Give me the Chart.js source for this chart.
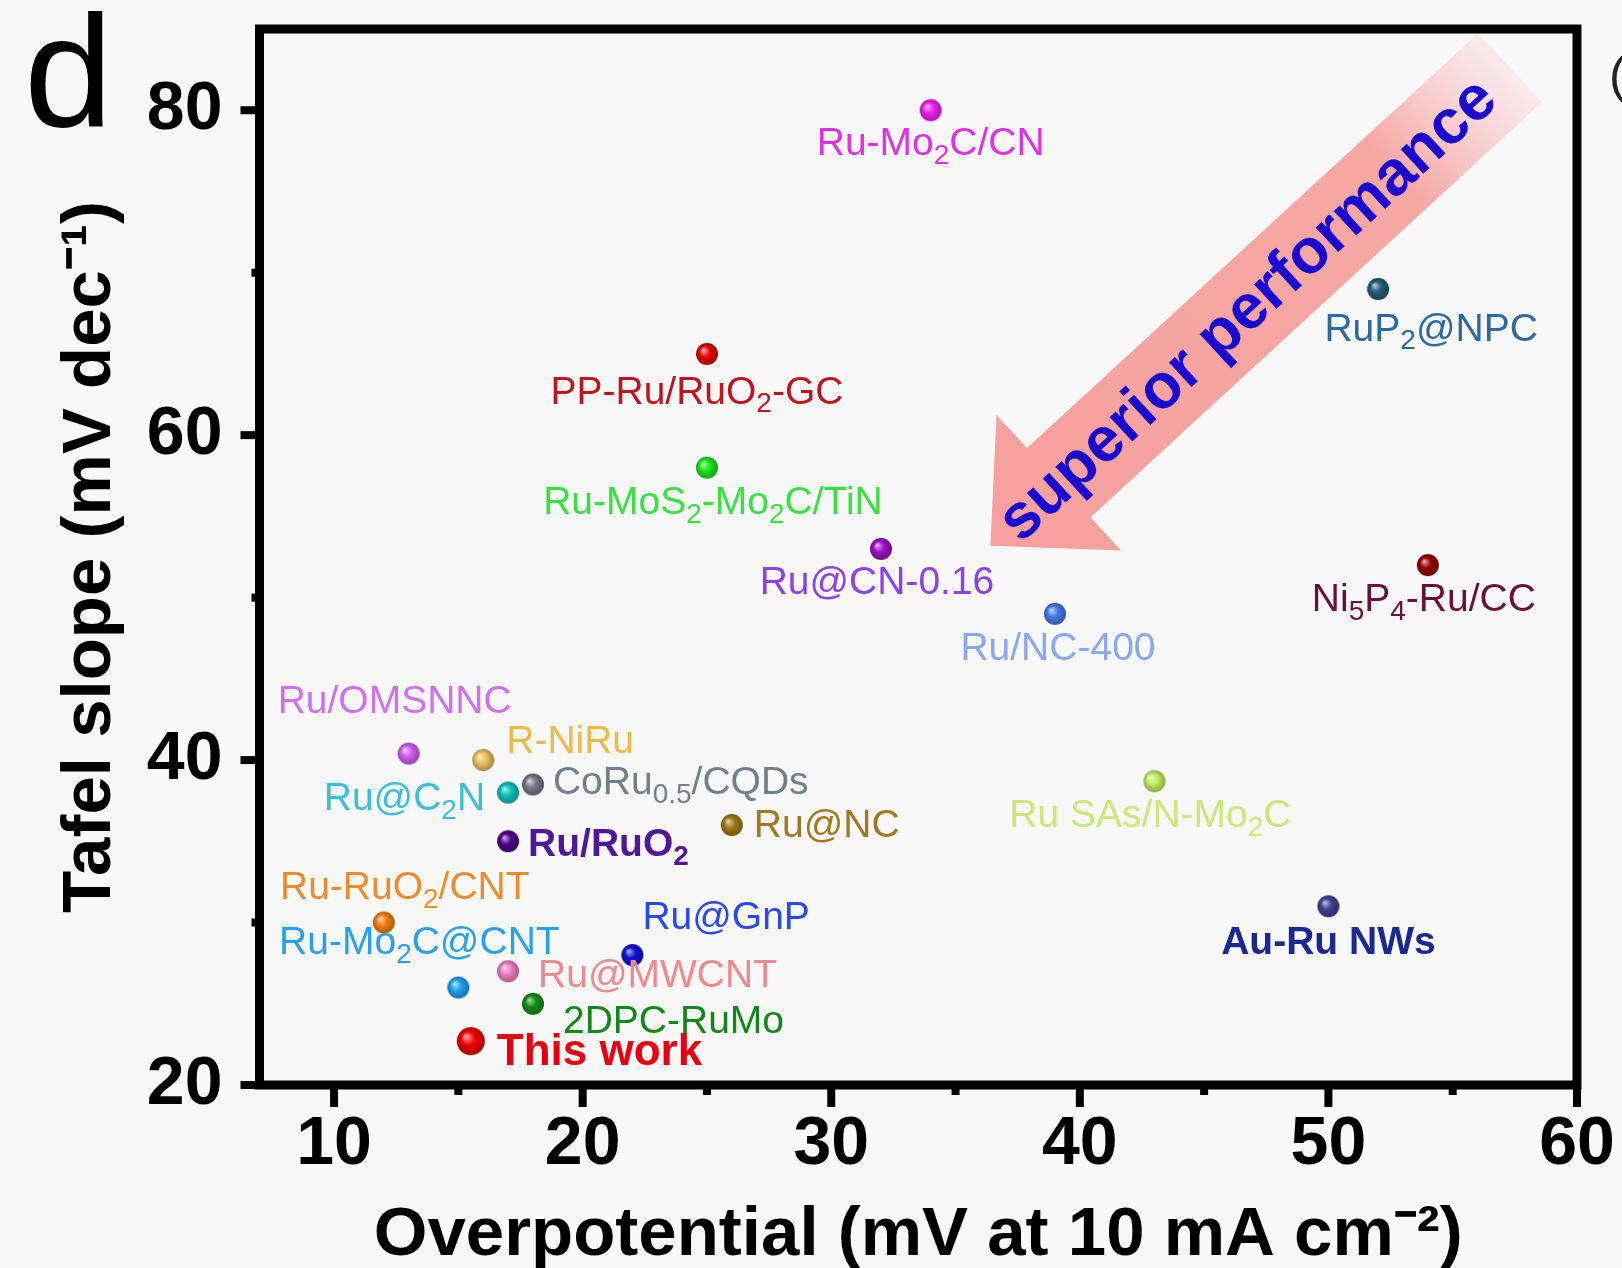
<!DOCTYPE html>
<html>
<head>
<meta charset="utf-8">
<title>Tafel slope vs overpotential</title>
<script src="https://cdn.jsdelivr.net/npm/chart.js@4.4.1/dist/chart.umd.min.js"></script>
<style>
  html, body { margin: 0; padding: 0; background: #f8f8f8; }
  #wrap { width: 1622px; height: 1268px; }
</style>
</head>
<body>
<div id="wrap"><canvas id="chart" width="1622" height="1268"></canvas></div>
<script>
// catalysts compared in the plot
const catalysts = [
    "Ru-Mo₂C/CN", "RuP₂@NPC", "PP-Ru/RuO₂-GC", "Ru-MoS₂-Mo₂C/TiN", "Ru@CN-0.16",
    "Ni₅P₄-Ru/CC", "Ru/NC-400", "Ru/OMSNNC", "R-NiRu", "Ru@C₂N",
    "CoRu₀.₅/CQDs", "Ru/RuO₂", "Ru@NC", "Ru SAs/N-Mo₂C", "Ru-RuO₂/CNT",
    "Au-Ru NWs", "Ru@GnP", "Ru@MWCNT", "Ru-Mo₂C@CNT", "2DPC-RuMo", "This work"
];
const overpotential = [34, 52, 25, 25, 32, 54, 39, 13, 16, 17, 18, 17, 26, 43, 12, 50, 22, 17, 15, 18, 15.5];
const tafelSlope = [80, 69, 65, 58, 53, 52, 49, 40.4, 40, 38, 38.5, 35, 36, 38.7, 30, 31, 28, 27, 26, 25, 22.7];

const pointColors = [
    "#f020f0", "#2a5a78", "#e00808", "#18e818", "#a010c8",
    "#980000", "#4878e8", "#d060f0", "#f0c060", "#10c0c0",
    "#787888", "#500088", "#a07818", "#c0f060", "#f08010",
    "#404090", "#1010d0", "#f080c0", "#20a0f0", "#109018", "#f00000"
];
const labelColors = [
    "#e030e8", "#2a6aa0", "#c0141c", "#38e040", "#9040e8",
    "#6a1038", "#88a8f0", "#d070f0", "#f0b848", "#38c0d8",
    "#708088", "#501898", "#a07820", "#c8e878", "#f08c28",
    "#1a2890", "#2a48f0", "#f08890", "#28a0f0", "#108818", "#e80010"
];

const xTickValues = [10, 20, 30, 40, 50, 60];
const xMinorTicks = [15, 25, 35, 45, 55];
const yTickValues = [20, 40, 60, 80];
const yMinorTicks = [30, 50, 70];

// where each label sits relative to its point (px)
const labelPlacement = [
    [0, 34, "center"], [53, 41, "center"], [-10, 39, "center"], [6, 36, "center"], [-4, 34, "center"],
    [-4, 35, "center"], [3, 35, "center"], [-14, -51, "center"], [23, -18, "left"], [-23, 7, "right"],
    [20, -1, "left"], [20, 4, "left"], [22, 1, "left"], [-4, 35, "center"], [21, -34, "center"],
    [0, 37, "center"], [10, -37, "left"], [30, 5, "left"], [-39, -44, "center"], [30, 18, "left"],
    [26, 12, "left"]
];
const boldLabels = ["This work", "Ru/RuO₂", "Au-Ru NWs"];

const arrowTip = [36.4, 53.2];
const ARROW = { angle: 42.6, length: 706, headLen: 93, headHalf: 92, shaftHalf: 47, textAt: 349 };

const FAMILY = '"Liberation Sans", Arial, sans-serif';
const SUB = "₀₁₂₃₄₅₆₇₈₉";

function hexToRgb(hex) {
    const n = parseInt(hex.slice(1), 16);
    return [(n >> 16) & 255, (n >> 8) & 255, n & 255];
}

function mix(rgb, target, f) {
    return "rgb(" + rgb.map((c, i) => Math.round(c + (target[i] - c) * f)).join(",") + ")";
}

function makeBall(color, r) {
    const c = document.createElement("canvas");
    const s = Math.ceil(r * 2 + 2);
    c.width = c.height = s;
    const g = c.getContext("2d");
    const rgb = hexToRgb(color);
    const grad = g.createRadialGradient(s / 2 - r * 0.35, s / 2 - r * 0.35, r * 0.05, s / 2, s / 2, r);
    grad.addColorStop(0, mix(rgb, [255, 255, 255], 0.65));
    grad.addColorStop(0.45, color);
    grad.addColorStop(1, mix(rgb, [0, 0, 0], 0.3));
    g.fillStyle = grad;
    g.beginPath();
    g.arc(s / 2, s / 2, r, 0, Math.PI * 2);
    g.fill();
    return c;
}

function splitRuns(text) {
    const chars = Array.from(text);
    const runs = [];
    chars.forEach((ch, i) => {
        let sub = SUB.includes(ch);
        const out = sub ? String(SUB.indexOf(ch)) : ch;
        if (ch === "." && i > 0 && SUB.includes(chars[i - 1]) && SUB.includes(chars[i + 1] || "")) sub = true;
        const last = runs[runs.length - 1];
        if (last && last.sub === sub) last.text += out;
        else runs.push({ text: out, sub });
    });
    return runs;
}

function drawRich(ctx, text, x, y, size, weight, color, align) {
    const runs = splitRuns(text);
    const mainFont = weight + " " + size + "px " + FAMILY;
    const subFont = weight + " " + Math.round(size * 0.72) + "px " + FAMILY;
    let total = 0;
    runs.forEach(r => {
        ctx.font = r.sub ? subFont : mainFont;
        r.w = ctx.measureText(r.text).width;
        total += r.w;
    });
    let cx = align === "center" ? x - total / 2 : align === "right" ? x - total : x;
    ctx.fillStyle = color;
    ctx.textAlign = "left";
    ctx.textBaseline = "middle";
    runs.forEach(r => {
        ctx.font = r.sub ? subFont : mainFont;
        ctx.fillText(r.text, cx, r.sub ? y + size * 0.3 : y);
        cx += r.w;
    });
}

const background = {
    id: "background",
    beforeDraw(chart) {
        const ctx = chart.ctx;
        ctx.save();
        ctx.fillStyle = "#f8f8f8";
        ctx.fillRect(0, 0, chart.width, chart.height);
        ctx.restore();
    }
};

const arrowPlugin = {
    id: "arrow",
    beforeDatasetsDraw(chart) {
        const { ctx, scales: { x, y } } = chart;
        const tx = x.getPixelForValue(arrowTip[0]);
        const ty = y.getPixelForValue(arrowTip[1]);
        const ang = ARROW.angle * Math.PI / 180;
        const ux = Math.cos(ang), uy = -Math.sin(ang);
        const nx = -uy, ny = ux;
        const P = (t, s) => [tx + ux * t + nx * s, ty + uy * t + ny * s];
        const pts = [
            P(0, 0), P(ARROW.headLen, ARROW.headHalf), P(ARROW.headLen, ARROW.shaftHalf),
            P(ARROW.length, ARROW.shaftHalf), P(ARROW.length, -ARROW.shaftHalf),
            P(ARROW.headLen, -ARROW.shaftHalf), P(ARROW.headLen, -ARROW.headHalf)
        ];
        ctx.save();
        const a = P(0, 0), b = P(ARROW.length, 0);
        const grad = ctx.createLinearGradient(a[0], a[1], b[0], b[1]);
        grad.addColorStop(0, "rgb(245,160,158)");
        grad.addColorStop(0.78, "rgb(246,168,164)");
        grad.addColorStop(1, "rgba(250,228,232,0.7)");
        ctx.fillStyle = grad;
        ctx.beginPath();
        pts.forEach((p, i) => i ? ctx.lineTo(p[0], p[1]) : ctx.moveTo(p[0], p[1]));
        ctx.closePath();
        ctx.fill();

        const c = P(ARROW.textAt, 0);
        ctx.translate(c[0], c[1]);
        ctx.rotate(-ang);
        ctx.font = "bold 63px " + FAMILY;
        ctx.textAlign = "center";
        ctx.textBaseline = "middle";
        ctx.fillStyle = "#1a0ad0";
        ctx.fillText("superior performance", 0, 2);
        ctx.restore();
    }
};

const labelPlugin = {
    id: "pointLabels",
    afterDatasetsDraw(chart) {
        const ctx = chart.ctx;
        const meta = chart.getDatasetMeta(0);
        ctx.save();
        meta.data.forEach((el, i) => {
            const [dx, dy, align] = labelPlacement[i];
            const bold = boldLabels.includes(catalysts[i]);
            const size = catalysts[i] === "This work" ? 44 : 39;
            drawRich(ctx, catalysts[i], el.x + dx, el.y + dy, size, bold ? "bold" : "normal", labelColors[i], align);
        });
        ctx.restore();
    }
};

const framePlugin = {
    id: "frame",
    afterDraw(chart) {
        const { ctx, chartArea: a, scales: { x, y } } = chart;
        ctx.save();
        ctx.strokeStyle = "#000";
        ctx.lineWidth = 9;
        ctx.strokeRect(a.left, a.top, a.right - a.left, a.bottom - a.top);
        ctx.fillStyle = "#000";
        x.ticks.forEach(t => {
            const px = x.getPixelForValue(t.value);
            const len = xTickValues.includes(t.value) ? 18 : 6;
            ctx.fillRect(px - 4, a.bottom + 4, 8, len);
        });
        y.ticks.forEach(t => {
            const py = y.getPixelForValue(t.value);
            const len = yTickValues.includes(t.value) ? 15 : 4;
            ctx.fillRect(a.left - 4 - len, py - 4, len, 8);
        });

        // panel letter and the edge of the neighbouring panel
        ctx.font = "160px " + FAMILY;
        ctx.textAlign = "left";
        ctx.textBaseline = "alphabetic";
        ctx.fillText("d", 24, 127);
        ctx.font = "50px " + FAMILY;
        ctx.fillStyle = "#222";
        ctx.textBaseline = "middle";
        ctx.fillText("(", 1609, 78);
        ctx.restore();
    }
};

const balls = pointColors.map((c, i) => makeBall(c, catalysts[i] === "This work" ? 14 : 11));

function setTicks(major, minor) {
    return scale => {
        scale.ticks = major.concat(minor).sort((p, q) => p - q).map(v => ({ value: v }));
    };
}

new Chart(document.getElementById("chart"), {
    type: "scatter",
    data: {
        datasets: [{
            data: overpotential.map((v, i) => ({ x: v, y: tafelSlope[i] })),
            pointStyle: balls,
            pointRadius: 11,
            backgroundColor: pointColors,
            borderWidth: 0
        }]
    },
    options: {
        responsive: false,
        animation: false,
        devicePixelRatio: 1,
        events: [],
        layout: { padding: { left: 0, top: 29, right: 45, bottom: 0 } },
        plugins: { legend: { display: false }, tooltip: { enabled: false } },
        scales: {
            x: {
                type: "linear",
                min: 7,
                max: 60,
                bounds: "data",
                grid: { display: false, drawTicks: false },
                border: { display: false },
                afterBuildTicks: setTicks(xTickValues, xMinorTicks),
                ticks: {
                    autoSkip: false,
                    maxRotation: 0,
                    padding: 19,
                    color: "#000",
                    font: { family: FAMILY, size: 68, weight: "bold" },
                    callback: v => xTickValues.includes(v) ? String(v) : ""
                },
                title: {
                    display: true,
                    text: "Overpotential (mV at 10 mA cm⁻²)",
                    color: "#000",
                    font: { family: FAMILY, size: 69, weight: "bold", lineHeight: 0.94 },
                    padding: { top: 0, bottom: 0 }
                },
                afterFit(s) {
                    s.height = 183;
                    s.paddingLeft = 0;
                    s.paddingRight = 0;
                }
            },
            y: {
                type: "linear",
                min: 20,
                max: 85,
                bounds: "data",
                grid: { display: false, drawTicks: false },
                border: { display: false },
                afterBuildTicks: setTicks(yTickValues, yMinorTicks),
                ticks: {
                    autoSkip: false,
                    padding: 37,
                    color: "#000",
                    font: { family: FAMILY, size: 68, weight: "bold" },
                    callback: v => yTickValues.includes(v) ? String(v) : ""
                },
                title: {
                    display: true,
                    text: "Tafel slope (mV dec⁻¹)",
                    color: "#000",
                    font: { family: FAMILY, size: 69, weight: "bold", lineHeight: 1 },
                    padding: { top: 56, bottom: 0 }
                },
                afterFit(s) {
                    s.width = 259.5;
                    s.paddingTop = 0;
                    s.paddingBottom = 0;
                }
            }
        }
    },
    plugins: [background, arrowPlugin, labelPlugin, framePlugin]
});
</script>
</body>
</html>
